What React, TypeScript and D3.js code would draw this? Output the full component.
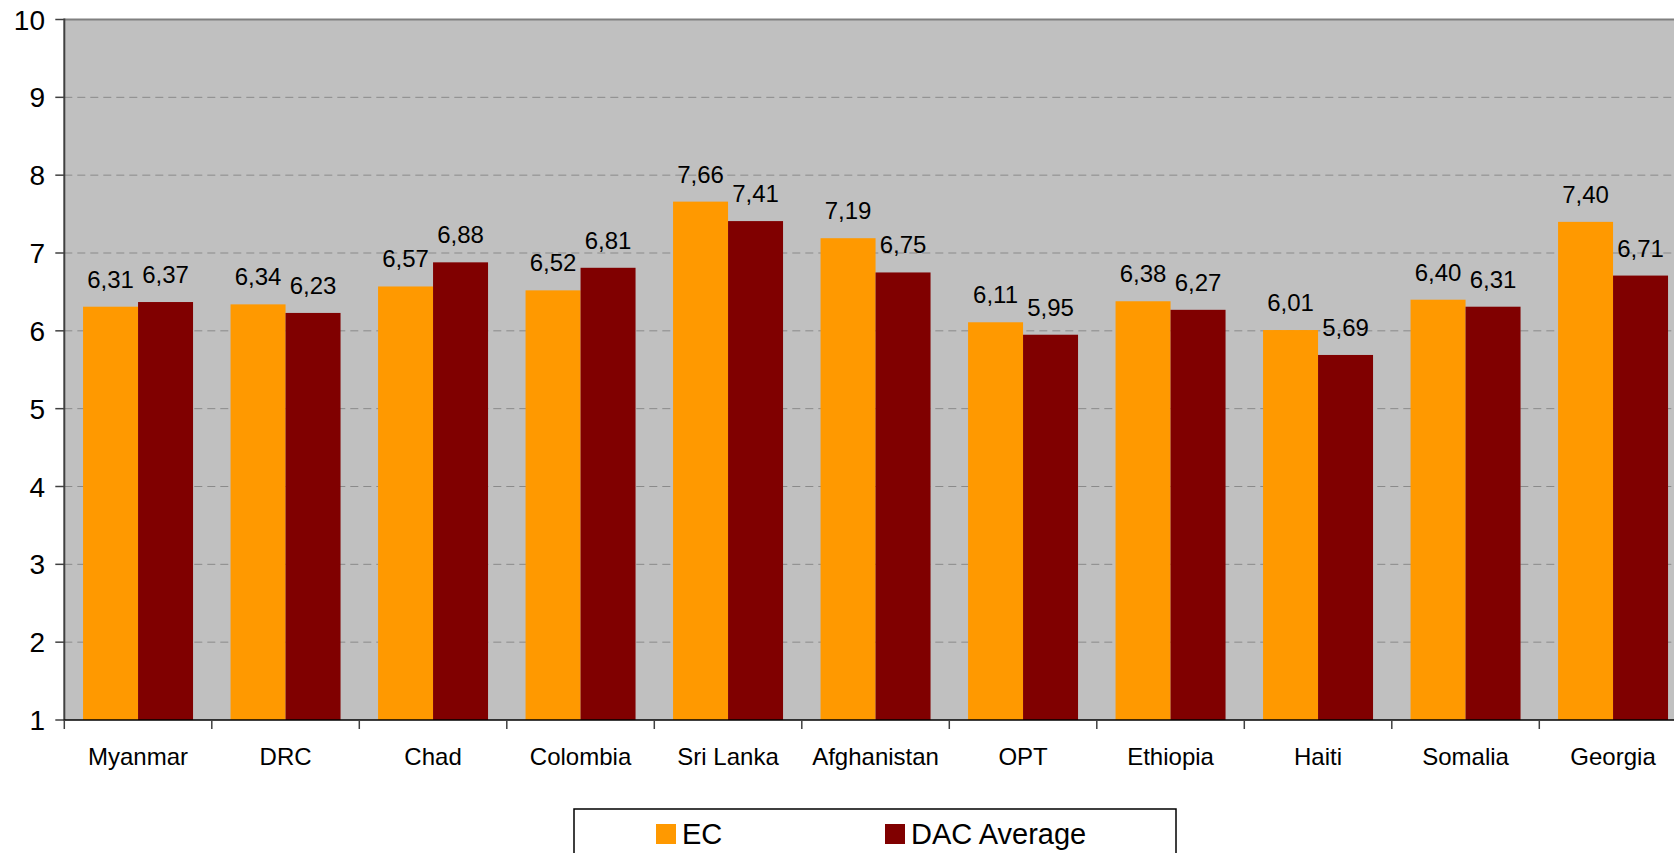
import React, { useEffect } from "react";
import * as d3 from "d3";

const categories = ["Myanmar", "DRC", "Chad", "Colombia", "Sri Lanka", "Afghanistan", "OPT", "Ethiopia", "Haiti", "Somalia", "Georgia"];
const seriesNames = ["EC", "DAC Average"];
const ecValues = [6.31, 6.34, 6.57, 6.52, 7.66, 7.19, 6.11, 6.38, 6.01, 6.40, 7.40];
const dacValues = [6.37, 6.23, 6.88, 6.81, 7.41, 6.75, 5.95, 6.27, 5.69, 6.31, 6.71];
const yTicks = [1, 2, 3, 4, 5, 6, 7, 8, 9, 10];
const colors = ["#FF9900", "#800000"];

const W = 1674;
const H = 853;
const left = 64.3;
const top = 19.5;
const bottom = 720;
const catWidth = 147.5;
const right = left + catWidth * categories.length;
const font = "'Liberation Sans', Arial, Helvetica, sans-serif";

export default function App() {
  useEffect(() => {
    document.body.style.margin = "0";
  }, []);

  const x = d3.scaleBand<string>().domain(categories).range([left, right]).padding(0);
  const xInner = d3.scaleBand<string>().domain(seriesNames).range([0, x.bandwidth()]).paddingInner(0).paddingOuter(0.341);
  const y = d3.scaleLinear().domain([1, 10]).range([bottom, top]);
  const fmt = (v: number) => v.toFixed(2).replace(".", ",");
  const seriesValues = [ecValues, dacValues];

  return (
    <svg width={W} height={H} style={{ display: "block", overflow: "hidden" }} fontFamily={font}>
      <rect x={0} y={0} width={W} height={H} fill="#ffffff" />
      {/* plot background */}
      <rect x={left} y={y(10)} width={right - left} height={bottom - y(10)} fill="#C0C0C0" />
      {/* gridlines */}
      {yTicks.filter((t) => t > 1 && t < 10).map((t) => (
        <line key={"g" + t} x1={left} x2={right} y1={y(t)} y2={y(t)} stroke="#8a8a8a" strokeWidth={1} strokeDasharray="8,5" />
      ))}
      <line x1={left} x2={right} y1={y(10)} y2={y(10)} stroke="#808080" strokeWidth={2} />
      {/* bars */}
      {categories.map((c, i) =>
        seriesNames.map((s, j) => {
          const v = seriesValues[j][i];
          const bx = (x(c) as number) + (xInner(s) as number);
          return (
            <rect key={c + s} x={bx} y={y(v)} width={xInner.bandwidth()} height={bottom - y(v)} fill={colors[j]} />
          );
        })
      )}
      {/* value labels */}
      {categories.map((c, i) =>
        seriesNames.map((s, j) => {
          const v = seriesValues[j][i];
          const bx = (x(c) as number) + (xInner(s) as number) + xInner.bandwidth() / 2;
          return (
            <text key={"l" + c + s} x={bx} y={y(v) - 19} textAnchor="middle" fontSize={24} fill="#000">
              {fmt(v)}
            </text>
          );
        })
      )}
      {/* axes */}
      <line x1={left} x2={left} y1={y(10) - 1} y2={bottom} stroke="#404040" strokeWidth={2} />
      <line x1={left - 1} x2={right} y1={bottom} y2={bottom} stroke="#000" strokeWidth={1.5} />
      {yTicks.map((t) => (
        <g key={"t" + t}>
          <line x1={left - 9} x2={left} y1={y(t)} y2={y(t)} stroke="#404040" strokeWidth={1.5} />
          <text x={45} y={y(t)} dy="0.36em" textAnchor="end" fontSize={28} fill="#000">
            {t}
          </text>
        </g>
      ))}
      {categories.map((c) => (
        <line key={"xt" + c} x1={x(c) as number} x2={x(c) as number} y1={bottom} y2={bottom + 9} stroke="#404040" strokeWidth={1.5} />
      ))}
      {categories.map((c) => (
        <text key={"xl" + c} x={(x(c) as number) + x.bandwidth() / 2} y={765} textAnchor="middle" fontSize={24} fill="#000">
          {c}
        </text>
      ))}
      {/* legend */}
      <rect x={574} y={809} width={602} height={70} fill="#ffffff" stroke="#000" strokeWidth={1.5} />
      <rect x={656} y={824} width={20} height={20} fill={colors[0]} />
      <text x={682} y={843.5} fontSize={29} fill="#000">{seriesNames[0]}</text>
      <rect x={885} y={824} width={20} height={20} fill={colors[1]} />
      <text x={911} y={843.5} fontSize={29} fill="#000">{seriesNames[1]}</text>
    </svg>
  );
}
